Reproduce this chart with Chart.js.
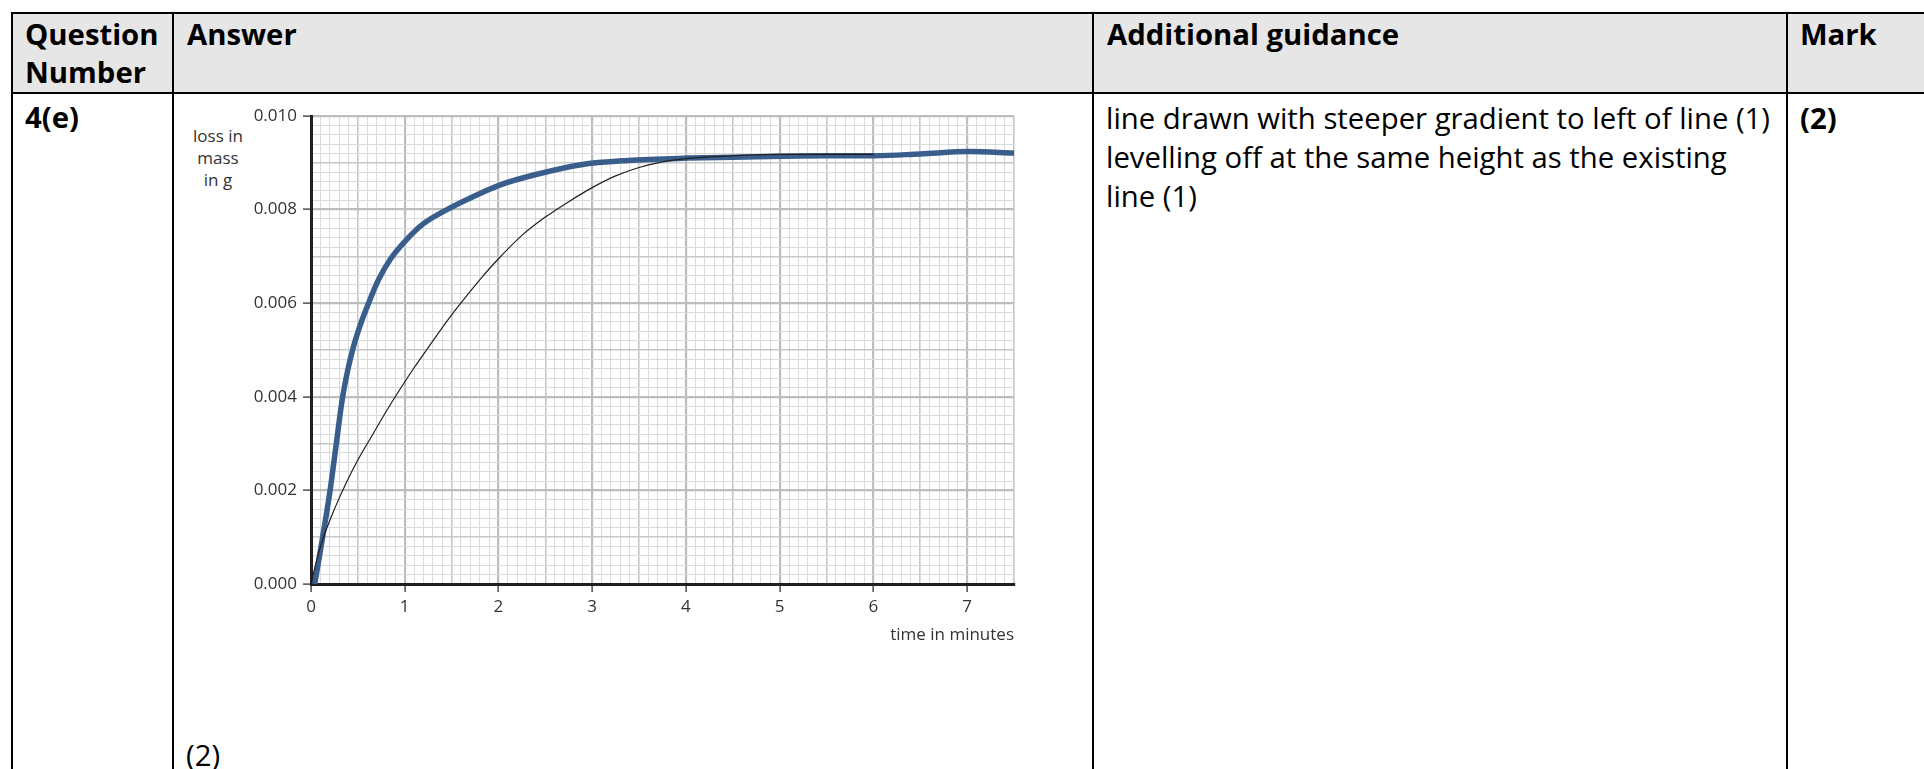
<!DOCTYPE html>
<html>
<head>
<meta charset="utf-8">
<script src="https://cdn.jsdelivr.net/npm/chart.js@4"></script>
<style>
  html, body { margin: 0; padding: 0; background: #fff; }
  body { width: 1924px; height: 769px; overflow: hidden; position: relative; font-family: 'Open Sans', sans-serif; color: #000; }
  .line { position: absolute; background: #000; }
  .head { position: absolute; left: 11px; top: 12px; width: 1913px; height: 81px; background: #e6e6e6; }
  .txt { position: absolute; font-size: 29.3px; line-height: 38px; white-space: nowrap; }
  .bold { font-weight: 700; }
  .body-txt { line-height: 39px; }
  #ylabel { position: absolute; left: 180px; top: 125px; width: 76px; text-align: center; font-size: 17px; line-height: 22px; color: #333; }
  #chart { position: absolute; left: 176px; top: 96px; }
</style>
</head>
<body>

<div class="head"></div>
<!-- table rules -->
<div class="line" style="left:11px; top:12px; width:1913px; height:2px;"></div>
<div class="line" style="left:11px; top:92px; width:1913px; height:2px;"></div>
<div class="line" style="left:11px; top:12px; width:2px; height:757px;"></div>
<div class="line" style="left:172px; top:12px; width:2px; height:757px;"></div>
<div class="line" style="left:1092px; top:12px; width:2px; height:757px;"></div>
<div class="line" style="left:1786px; top:12px; width:2px; height:757px;"></div>

<div class="txt bold" style="left:25px; top:15px;">Question<br>Number</div>
<div class="txt bold" style="left:187px; top:15px;">Answer</div>
<div class="txt bold" style="left:1107px; top:15px;">Additional guidance</div>
<div class="txt bold" style="left:1800px; top:15px;">Mark</div>

<div class="txt bold" style="left:25px; top:98px;">4(e)</div>
<div class="txt body-txt" style="left:1106px; top:99px;">line drawn with steeper gradient to left of line (1)<br>levelling off at the same height as the existing<br>line (1)</div>
<div class="txt bold" style="left:1800px; top:99px;">(2)</div>
<div class="txt" style="left:186px; top:736px;">(2)</div>

<div id="ylabel">loss in<br>mass<br>in g</div>
<canvas id="chart" width="900" height="564"></canvas>

<script>
// existing line (thin) - time in minutes / loss in mass in g
const thinTime = [0, 0.06, 0.125, 0.25, 0.375, 0.5, 0.66, 0.8, 0.946, 1.1, 1.232, 1.5, 1.625, 1.8, 2.0, 2.25, 2.5, 2.75, 3.0, 3.25, 3.5, 3.75, 4.0, 4.5, 5.0, 5.5, 6.0];
const thinMass = [0, 0.0005, 0.00095, 0.0016, 0.00216, 0.00265, 0.0032, 0.00368, 0.00415, 0.00462, 0.005, 0.00575, 0.00607, 0.0065, 0.00695, 0.00745, 0.00784, 0.00817, 0.00847, 0.00872, 0.0089, 0.00902, 0.00909, 0.00915, 0.00918, 0.00918, 0.00918];

// answer line (thick, steeper)
const answerTime = [0.04, 0.12, 0.2, 0.27, 0.33, 0.39, 0.45, 0.52, 0.61, 0.72, 0.85, 1.02, 1.2, 1.45, 1.7, 2.02, 2.4, 2.88, 3.38, 4.02, 4.5, 5.02, 5.5, 6.02, 6.5, 7.02, 7.5];
const answerMass = [0, 0.00095, 0.00195, 0.003, 0.0039, 0.00455, 0.00505, 0.0055, 0.00598, 0.0065, 0.00695, 0.00736, 0.0077, 0.008, 0.00825, 0.00853, 0.00875, 0.00896, 0.00905, 0.0091, 0.00912, 0.00914, 0.00915, 0.00915, 0.00919, 0.00924, 0.00921];

const xMax = 7.5;
const yMax = 0.010;

function isWhole(v) {
    return Math.abs(v - Math.round(v)) < 1e-6;
}

// graph paper: major / half / minor lines
function xKind(v) {
    if (isWhole(v)) return 2;
    if (isWhole(v * 2)) return 1;
    return 0;
}
function yKind(v) {
    if (isWhole(v / 0.002)) return 2;
    if (isWhole(v / 0.001)) return 1;
    return 0;
}
const paperColor = ['#dadbdc', '#c6c7c9', '#bcbdbf'];
const paperWidth = [1, 1.6, 2.2];

function toPoints(xs, ys) {
    return xs.map((x, i) => ({ x: x, y: ys[i] }));
}

Chart.defaults.font.family = "'Open Sans', sans-serif";

new Chart(document.getElementById('chart'), {
    type: 'line',
    data: {
        datasets: [{
            label: 'existing line',
            data: toPoints(thinTime, thinMass),
            borderColor: '#231f20',
            borderWidth: 1.2,
            pointRadius: 0,
            cubicInterpolationMode: 'monotone',
            fill: false
        }, {
            label: 'answer line',
            data: toPoints(answerTime, answerMass),
            borderColor: '#3a5e8c',
            borderWidth: 5.5,
            pointRadius: 0,
            cubicInterpolationMode: 'monotone',
            fill: false
        }]
    },
    options: {
        responsive: false,
        animation: false,
        devicePixelRatio: 1,
        layout: { padding: { top: 20, right: 62, bottom: 0, left: 0 } },
        plugins: {
            legend: { display: false },
            tooltip: { enabled: false }
        },
        scales: {
            x: {
                type: 'linear',
                min: 0,
                max: xMax,
                ticks: {
                    stepSize: 0.1,
                    autoSkip: false,
                    maxRotation: 0,
                    padding: 5,
                    color: '#333',
                    font: { size: 17 },
                    callback: v => isWhole(v) ? String(Math.round(v)) : ''
                },
                grid: {
                    color: c => paperColor[xKind(c.tick.value)],
                    lineWidth: c => paperWidth[xKind(c.tick.value)],
                    tickLength: 8,
                    tickColor: c => isWhole(c.tick.value) ? '#231f20' : 'rgba(0,0,0,0)',
                    tickWidth: 1.2
                },
                border: { color: '#231f20', width: 3 },
                title: {
                    display: true,
                    text: 'time in minutes',
                    align: 'end',
                    color: '#333',
                    font: { size: 17 },
                    padding: { top: 0, bottom: 15 }
                },
                afterFit: s => { s.height = 76; }
            },
            y: {
                min: 0,
                max: yMax,
                ticks: {
                    stepSize: 0.0002,
                    autoSkip: false,
                    padding: 6,
                    color: '#333',
                    font: { size: 17 },
                    callback: v => isWhole(v / 0.002) ? v.toFixed(3) : ''
                },
                grid: {
                    color: c => paperColor[yKind(c.tick.value)],
                    lineWidth: c => paperWidth[yKind(c.tick.value)],
                    tickLength: 8,
                    tickColor: c => isWhole(c.tick.value / 0.002) ? '#231f20' : 'rgba(0,0,0,0)',
                    tickWidth: 1.2
                },
                border: { color: '#231f20', width: 3 },
                afterFit: s => { s.width = 135; }
            }
        }
    }
});
</script>
</body>
</html>
